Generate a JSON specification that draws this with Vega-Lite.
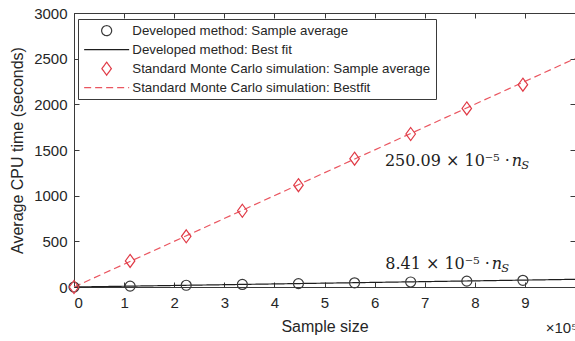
{
  "$schema": "https://vega.github.io/schema/vega-lite/v6.json",
  "autosize": "none",
  "width": 501,
  "height": 274,
  "padding": {"left": 74, "top": 13, "right": 0, "bottom": 54},
  "background": "white",
  "config": {
    "view": {"stroke": "#3a3a3a"},
    "font": "Liberation Sans",
    "axis": {
      "grid": false,
      "domainColor": "#3a3a3a",
      "tickColor": "#3a3a3a",
      "tickSize": -5,
      "labelFont": "Liberation Sans",
      "labelFontSize": 15,
      "labelColor": "#262626",
      "titleFont": "Liberation Sans",
      "titleFontSize": 16,
      "titleFontWeight": "normal",
      "titleColor": "#262626"
    }
  },
  "title": {
    "text": "×10⁵",
    "orient": "bottom",
    "anchor": "end",
    "offset": -13,
    "font": "Liberation Sans",
    "fontSize": 15,
    "fontWeight": "normal",
    "color": "#262626"
  },
  "datasets": {
    "averages": [
      {"series": "Developed method: Sample average", "n": 0, "t": 0},
      {"series": "Developed method: Sample average", "n": 112000, "t": 10},
      {"series": "Developed method: Sample average", "n": 224000, "t": 19},
      {"series": "Developed method: Sample average", "n": 336000, "t": 28},
      {"series": "Developed method: Sample average", "n": 448000, "t": 37},
      {"series": "Developed method: Sample average", "n": 560000, "t": 46},
      {"series": "Developed method: Sample average", "n": 672000, "t": 55},
      {"series": "Developed method: Sample average", "n": 784000, "t": 64},
      {"series": "Developed method: Sample average", "n": 896000, "t": 73},
      {"series": "Standard Monte Carlo simulation: Sample average", "n": 0, "t": 0},
      {"series": "Standard Monte Carlo simulation: Sample average", "n": 112000, "t": 285},
      {"series": "Standard Monte Carlo simulation: Sample average", "n": 224000, "t": 555},
      {"series": "Standard Monte Carlo simulation: Sample average", "n": 336000, "t": 835},
      {"series": "Standard Monte Carlo simulation: Sample average", "n": 448000, "t": 1115},
      {"series": "Standard Monte Carlo simulation: Sample average", "n": 560000, "t": 1405},
      {"series": "Standard Monte Carlo simulation: Sample average", "n": 672000, "t": 1675},
      {"series": "Standard Monte Carlo simulation: Sample average", "n": 784000, "t": 1955},
      {"series": "Standard Monte Carlo simulation: Sample average", "n": 896000, "t": 2215}
    ],
    "fits": [
      {"series": "Developed method: Best fit", "n": 0, "t": 0},
      {"series": "Developed method: Best fit", "n": 1000000, "t": 84.1},
      {"series": "Standard Monte Carlo simulation: Bestfit", "n": 0, "t": 0},
      {"series": "Standard Monte Carlo simulation: Bestfit", "n": 1000000, "t": 2500.9}
    ],
    "notes": [
      {"main": "250.09 × 10⁻⁵ · ", "n": 874000, "t": 1383},
      {"main": "8.41 × 10⁻⁵ · ", "n": 834000, "t": 252}
    ]
  },
  "layer": [
    {
      "data": {"name": "fits"},
      "mark": {"type": "line", "strokeWidth": 1.2},
      "encoding": {
        "x": {
          "field": "n",
          "type": "quantitative",
          "scale": {"domain": [0, 1000000], "nice": false},
          "axis": {
            "title": "Sample size",
            "orient": "bottom",
            "values": [0, 100000, 200000, 300000, 400000, 500000, 600000, 700000, 800000, 900000],
            "labelExpr": "format(datum.value / 100000, 'd')",
            "labelPadding": 13,
            "titlePadding": 8
          }
        },
        "y": {
          "field": "t",
          "type": "quantitative",
          "scale": {"domain": [0, 3000], "nice": false},
          "axis": {
            "title": "Average CPU time (seconds)",
            "orient": "left",
            "format": "d",
            "values": [0, 500, 1000, 1500, 2000, 2500, 3000],
            "labelPadding": 12,
            "titlePadding": 8
          }
        },
        "color": {
          "field": "series",
          "type": "nominal",
          "title": null,
          "scale": {
            "domain": [
              "Developed method: Sample average",
              "Developed method: Best fit",
              "Standard Monte Carlo simulation: Sample average",
              "Standard Monte Carlo simulation: Bestfit"
            ],
            "range": ["#3a3a3a", "#1e1e1e", "#e03a46", "#ea5660"]
          },
          "legend": {
            "orient": "none",
            "legendX": 4,
            "legendY": 6,
            "padding": 5,
            "fillColor": "white",
            "strokeColor": "#3a3a3a",
            "cornerRadius": 0,
            "symbolSize": 100,
            "symbolStrokeWidth": 1.2,
            "symbolOffset": 17,
            "labelFont": "Liberation Sans",
            "labelFontSize": 13.3,
            "labelColor": "#262626",
            "labelOffset": 19,
            "labelLimit": 0,
            "gridAlign": "all",
            "rowPadding": 0
          }
        },
        "strokeDash": {
          "field": "series",
          "type": "nominal",
          "title": null,
          "scale": {
            "domain": [
              "Developed method: Sample average",
              "Developed method: Best fit",
              "Standard Monte Carlo simulation: Sample average",
              "Standard Monte Carlo simulation: Bestfit"
            ],
            "range": [[1, 0], [1, 0], [1, 0], [7, 4]]
          }
        }
      }
    },
    {
      "data": {"name": "averages"},
      "mark": {"type": "point", "filled": false, "strokeWidth": 1.2, "opacity": 1, "size": 100},
      "encoding": {
        "x": {
          "field": "n",
          "type": "quantitative",
          "axis": {"orient": "top", "title": null, "labels": false, "values": [0, 100000, 200000, 300000, 400000, 500000, 600000, 700000, 800000, 900000]}
        },
        "y": {
          "field": "t",
          "type": "quantitative",
          "axis": {"orient": "right", "title": null, "labels": false, "values": [0, 500, 1000, 1500, 2000, 2500, 3000]}
        },
        "color": {"field": "series", "type": "nominal", "title": null},
        "shape": {
          "field": "series",
          "type": "nominal",
          "title": null,
          "scale": {
            "domain": [
              "Developed method: Sample average",
              "Developed method: Best fit",
              "Standard Monte Carlo simulation: Sample average",
              "Standard Monte Carlo simulation: Bestfit"
            ],
            "range": ["circle", "M-4.5,0L4.5,0", "M0,-1.3L0.95,0L0,1.3L-0.95,0Z", "M-4.5,0L4.5,0"]
          }
        }
      }
    },
    {
      "data": {"name": "notes"},
      "mark": {"type": "text", "align": "right", "baseline": "middle", "font": "DejaVu Serif", "fontSize": 16, "color": "#1e1e1e", "dx": -2},
      "encoding": {
        "x": {"field": "n", "type": "quantitative", "axis": null},
        "y": {"field": "t", "type": "quantitative", "axis": null},
        "text": {"field": "main"}
      }
    },
    {
      "data": {"name": "notes"},
      "mark": {"type": "text", "align": "left", "baseline": "middle", "font": "DejaVu Serif", "fontStyle": "italic", "fontSize": 16, "color": "#1e1e1e"},
      "encoding": {
        "x": {"field": "n", "type": "quantitative", "axis": null},
        "y": {"field": "t", "type": "quantitative", "axis": null},
        "text": {"value": "n"}
      }
    },
    {
      "data": {"name": "notes"},
      "mark": {"type": "text", "align": "left", "baseline": "middle", "font": "DejaVu Serif", "fontStyle": "italic", "fontSize": 11.5, "color": "#1e1e1e", "dx": 9.5, "dy": 5},
      "encoding": {
        "x": {"field": "n", "type": "quantitative", "axis": null},
        "y": {"field": "t", "type": "quantitative", "axis": null},
        "text": {"value": "S"}
      }
    }
  ],
  "resolve": {"axis": {"x": "independent", "y": "independent"}}
}
